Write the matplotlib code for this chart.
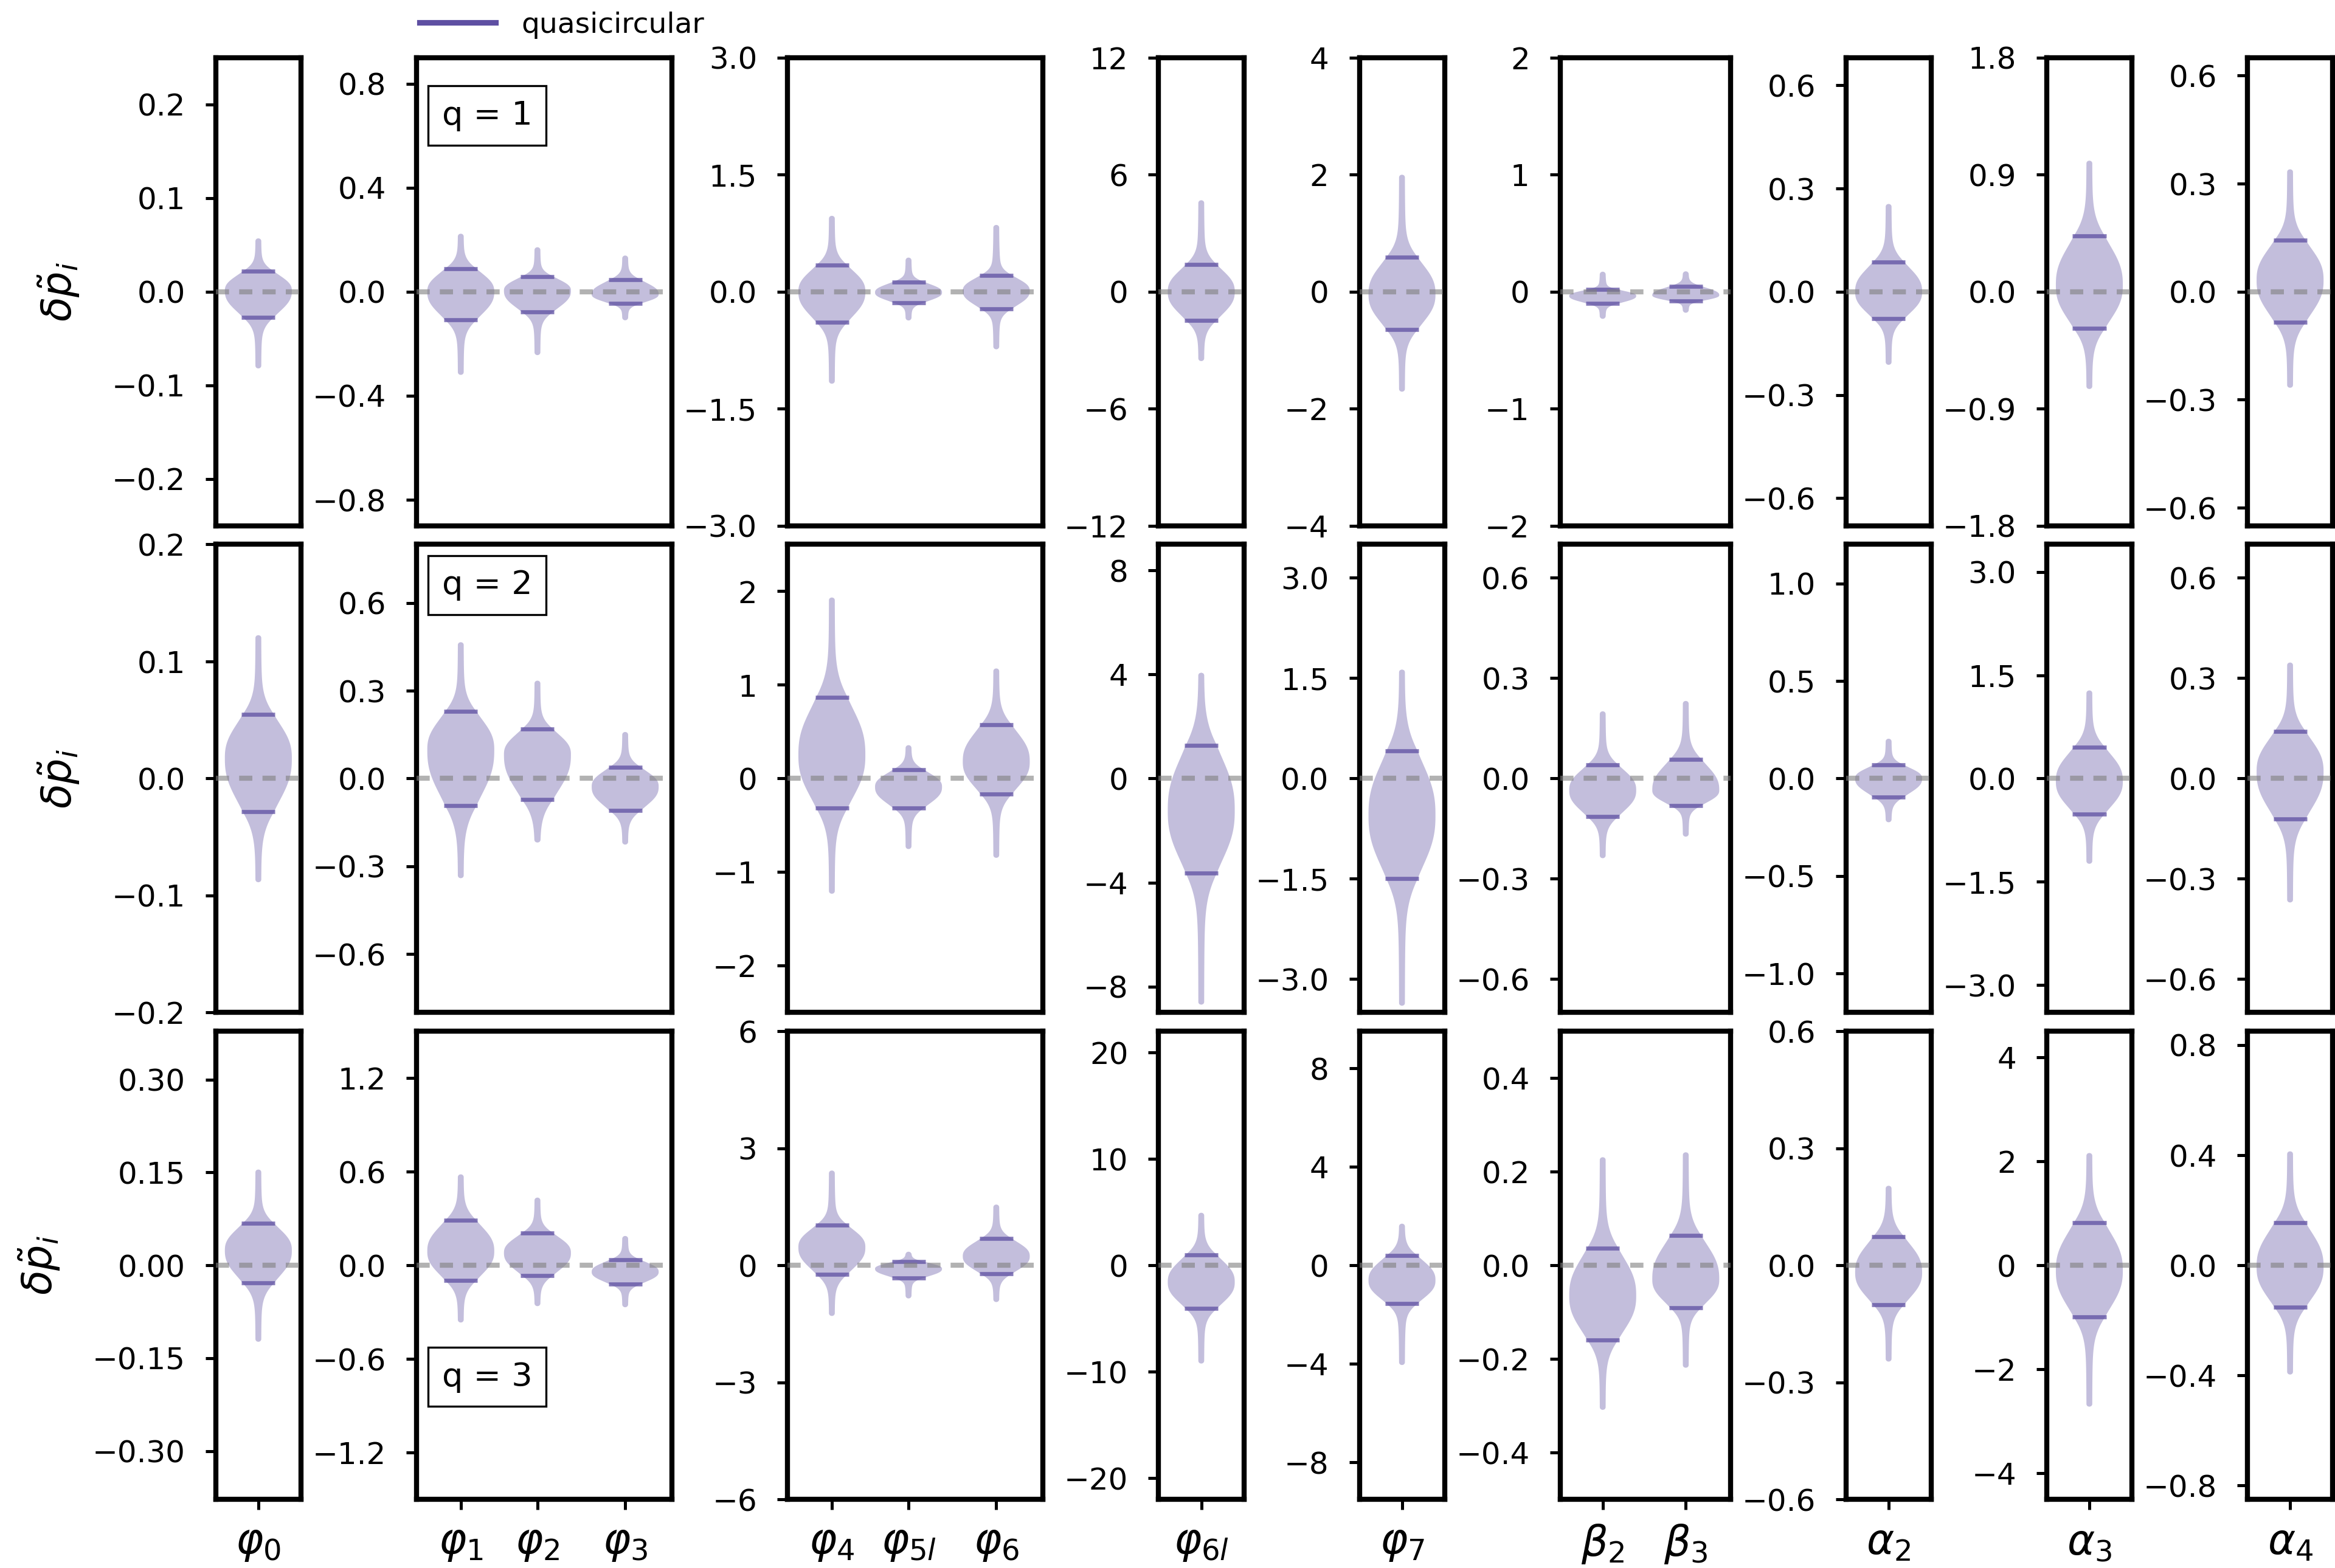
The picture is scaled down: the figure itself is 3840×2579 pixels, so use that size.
import matplotlib
matplotlib.use('Agg')
import matplotlib.pyplot as plt
from matplotlib.ticker import MultipleLocator
from matplotlib.lines import Line2D
import numpy as np

# parameter names, in plotting order
params = [r'$\varphi_0$', r'$\varphi_1$', r'$\varphi_2$', r'$\varphi_3$',
          r'$\varphi_4$', r'$\varphi_{5l}$', r'$\varphi_6$', r'$\varphi_{6l}$',
          r'$\varphi_7$', r'$\beta_2$', r'$\beta_3$',
          r'$\alpha_2$', r'$\alpha_3$', r'$\alpha_4$']
# which parameters share a panel
groups = [[0], [1, 2, 3], [4, 5, 6], [7], [8], [9, 10], [11], [12], [13]]
mass_ratios = [1, 2, 3]

# posterior summaries per mass ratio: tail ends, 5/95% lines and mode
q1_hi = [0.057, 0.223, 0.171, 0.139, 0.973, 0.437, 0.856, 4.69, 2.00, 0.171, 0.174, 0.255, 1.008, 0.340]
q1_up = [0.0217, 0.089, 0.059, 0.046, 0.338, 0.126, 0.212, 1.39, 0.59, 0.018, 0.048, 0.0865, 0.427, 0.143]
q1_mode = [0.001, 0.0, 0.004, -0.01, 0.0, -0.01, 0.01, 0.0, -0.04, -0.036, -0.03, 0.0, 0.05, 0.032]
q1_dn = [-0.0272, -0.109, -0.078, -0.046, -0.392, -0.14, -0.22, -1.46, -0.65, -0.102, -0.081, -0.079, -0.284, -0.085]
q1_lo = [-0.082, -0.32, -0.244, -0.11, -1.18, -0.369, -0.739, -3.56, -1.71, -0.232, -0.18, -0.2126, -0.749, -0.267]

q2_hi = [0.1225, 0.466, 0.3345, 0.159, 1.934, 0.356, 1.176, 4.07, 1.63, 0.201, 0.232, 0.204, 1.28, 0.347]
q2_up = [0.0547, 0.229, 0.169, 0.039, 0.869, 0.094, 0.572, 1.27, 0.41, 0.041, 0.058, 0.0687, 0.456, 0.141]
q2_mode = [0.0173, 0.098, 0.082, -0.028, 0.25, -0.09, 0.18, -1.23, -0.55, -0.035, -0.035, 0.0, -0.04, 0.02]
q2_dn = [-0.0285, -0.0934, -0.072, -0.110, -0.318, -0.314, -0.168, -3.63, -1.50, -0.114, -0.081, -0.094, -0.513, -0.121]
q2_lo = [-0.0887, -0.341, -0.219, -0.226, -1.232, -0.754, -0.848, -8.7, -3.4, -0.2385, -0.174, -0.2245, -1.24, -0.371]

q3_hi = [0.1547, 0.583, 0.434, 0.188, 2.43, 0.348, 1.557, 4.94, 1.69, 0.231, 0.2415, 0.204, 2.16, 0.414]
q3_up = [0.068, 0.288, 0.207, 0.035, 1.035, 0.092, 0.687, 0.975, 0.39, 0.0366, 0.0632, 0.0733, 0.816, 0.155]
q3_mode = [0.024, 0.09, 0.079, -0.042, 0.46, -0.09, 0.23, -1.58, -0.61, -0.065, -0.03, -0.018, -0.1, -0.006]
q3_dn = [-0.0287, -0.0975, -0.065, -0.121, -0.229, -0.32, -0.22, -4.07, -1.55, -0.159, -0.0907, -0.1008, -0.995, -0.153]
q3_lo = [-0.1236, -0.367, -0.262, -0.269, -1.30, -0.85, -0.943, -9.24, -4.05, -0.309, -0.219, -0.247, -2.72, -0.397]

# symmetric y range and tick step for each panel
q1_ylim = [0.25, 0.9, 3.0, 12, 4, 2, 0.68, 1.8, 0.65]
q2_ylim = [0.2, 0.8, 2.5, 9, 3.5, 0.7, 1.2, 3.4, 0.7]
q3_ylim = [0.378, 1.5, 6, 22, 9.5, 0.5, 0.6, 4.5, 0.85]
q1_step = [0.1, 0.4, 1.5, 6, 2, 1, 0.3, 0.9, 0.3]
q2_step = [0.1, 0.3, 1, 4, 1.5, 0.3, 0.5, 1.5, 0.3]
q3_step = [0.15, 0.6, 3, 10, 4, 0.2, 0.3, 2, 0.4]

rows = [
    (q1_lo, q1_dn, q1_mode, q1_up, q1_hi, q1_ylim, q1_step),
    (q2_lo, q2_dn, q2_mode, q2_up, q2_hi, q2_ylim, q2_step),
    (q3_lo, q3_dn, q3_mode, q3_up, q3_hi, q3_ylim, q3_step),
]

color = '#5e4fa2'
slots = [len(g) for g in groups]
xpos = {1: [0.5], 2: [0.5, 1.475], 3: [0.52, 1.42, 2.45]}
vwidth = 0.786


def violin_shape(lo, dn, mode, up, hi, tip, n=600):
    y = np.linspace(lo, hi, n)
    s = np.where(y >= mode, (up - mode) / 1.35, (mode - dn) / 1.35)
    core = np.exp(-0.5 * np.abs((y - mode) / s) ** 2.5)
    # long thin tails, slightly flared where they meet the core
    d = np.where(y >= mode, (y - up) / (hi - up), (dn - y) / (dn - lo))
    tail = 0.085 + 0.10 * np.exp(-4 * np.clip(d, 0, None))
    v = core + tail * (1 - core)
    # round off the tail ends
    edge = np.minimum(y - lo, hi - y)
    cap = np.clip(1 - edge / tip, 0, 1)
    v = v * np.sqrt(1 - cap ** 2)
    return y, v


plt.rcParams['font.size'] = 11
fig = plt.figure(figsize=(12.8, 8.597), dpi=300)
gs = fig.add_gridspec(3, 9, width_ratios=slots, left=0.0924, right=0.999,
                      top=0.9632, bottom=0.0438, wspace=0.872, hspace=0.040)

for r, (lo, dn, mode, up, hi, ylim, step) in enumerate(rows):
    for g, idx in enumerate(groups):
        ax = fig.add_subplot(gs[r, g])
        lim = ylim[g]
        pos = xpos[len(idx)]
        stats = []
        for k in idx:
            y, v = violin_shape(lo[k], dn[k], mode[k], up[k], hi[k], 0.012 * lim)
            stats.append(dict(coords=y, vals=v, mean=mode[k], median=mode[k],
                              min=lo[k], max=hi[k], quantiles=[dn[k], up[k]]))
        parts = ax.violin(stats, positions=pos, widths=vwidth, showextrema=False)
        for b in parts['bodies']:
            b.set_facecolor(color)
            b.set_alpha(0.37)
            b.set_linewidth(0)
        parts['cquantiles'].set_color(color)
        parts['cquantiles'].set_alpha(0.75)
        parts['cquantiles'].set_linewidth(1.6)

        ax.axhline(0, color='gray', ls=(0, (2.6, 2.0)), lw=2.0, alpha=0.6, zorder=3)
        ax.set_xlim(0, len(idx))
        ax.set_ylim(-lim, lim)
        ax.yaxis.set_major_locator(MultipleLocator(step[g]))
        ax.tick_params(axis='y', labelsize=12, width=1.2, length=4.0, pad=8)
        for sp in ax.spines.values():
            sp.set_linewidth(2.0)
        if r == 2:
            ax.set_xticks(pos)
            ax.set_xticklabels([params[k] for k in idx], fontsize=16.5)
            ax.tick_params(axis='x', width=1.2, length=4.0, pad=5)
        else:
            ax.set_xticks([])
        if g == 0:
            ax.set_ylabel(r'$\delta\tilde{p}_i$', fontsize=16, labelpad=12)
        if g == 1:
            box = dict(boxstyle='square,pad=0.42', facecolor='white',
                       edgecolor='black', linewidth=0.8)
            label = 'q = %d' % mass_ratios[r]
            if r == 0:
                ax.text(0.1, 0.91, label, transform=ax.transAxes, fontsize=13,
                        ha='left', va='top', bbox=box)
            elif r == 1:
                ax.text(0.1, 0.947, label, transform=ax.transAxes, fontsize=13,
                        ha='left', va='top', bbox=box)
            else:
                ax.text(0.1, 0.228, label, transform=ax.transAxes, fontsize=13,
                        ha='left', va='bottom', bbox=box)

handle = Line2D([0], [0], color=color, lw=2.2, label='quasicircular')
fig.legend(handles=[handle], loc='center left', bbox_to_anchor=(0.1797, 0.984),
           frameon=False, borderpad=0, borderaxespad=0, handlelength=2.65,
           handletextpad=0.9, fontsize=11.3)

fig.savefig('out.png', dpi=300)
